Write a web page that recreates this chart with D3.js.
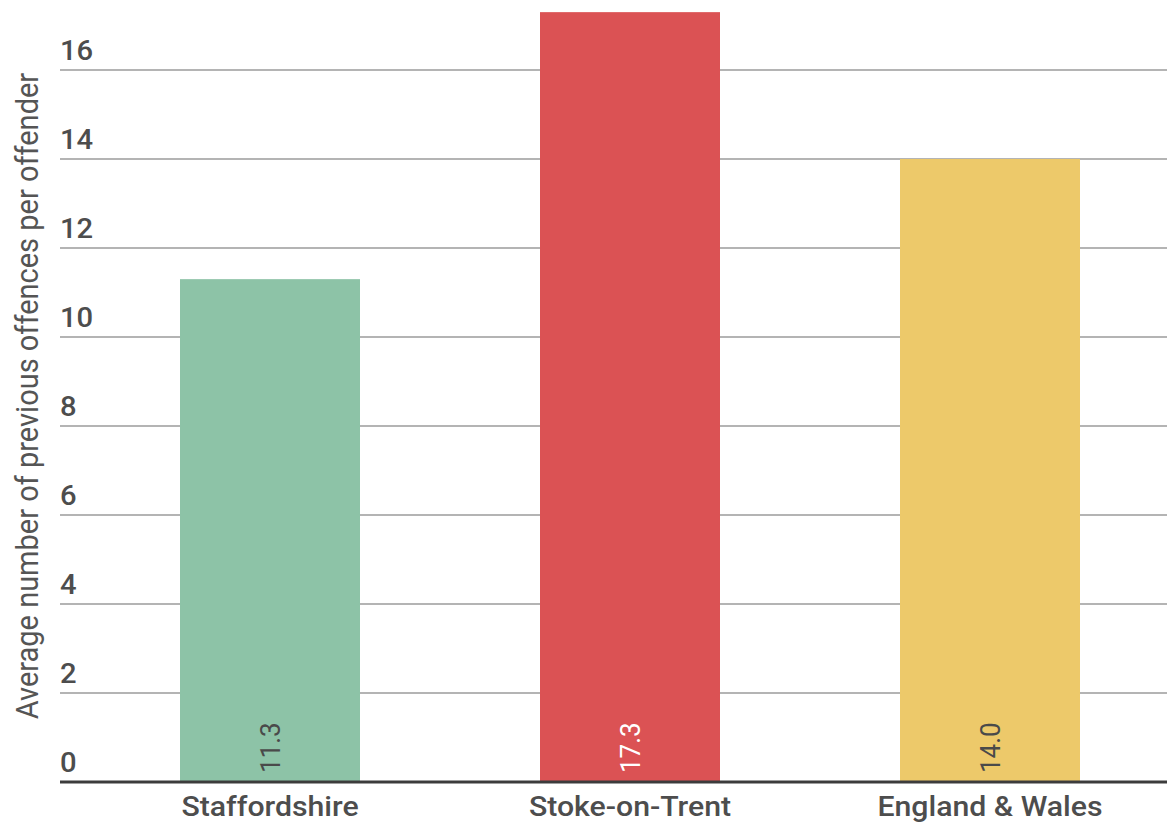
<!DOCTYPE html>
<html>
<head>
<meta charset="utf-8">
<script src="https://cdn.jsdelivr.net/npm/d3@7"></script>
<style>
  html, body { margin: 0; padding: 0; background: #fff; }
  svg { display: block; font-family: Roboto, "Noto Sans", sans-serif; }
</style>
</head>
<body>
<svg id="chart" width="1167" height="823"></svg>
<script>
// Average number of previous offences per offender, by area
const categories = ["Staffordshire", "Stoke-on-Trent", "England & Wales"];
const values = [11.3, 17.3, 14.0];
const barColors = ["#8dc3a7", "#db5254", "#edc96a"];
const labelColors = ["#4a4a4a", "#ffffff", "#4a4a4a"];
const yTicks = [0, 2, 4, 6, 8, 10, 12, 14, 16];
const yTitle = "Average number of previous offences per offender";

const svg = d3.select("#chart");
const width = 1167;
const stretch = 1.08; // slightly wide lettering

const x = d3.scaleBand()
  .domain(categories)
  .range([90, 1170])
  .paddingInner(0.5)
  .paddingOuter(0.25);

const y = d3.scaleLinear()
  .domain([0, 16])
  .range([782, 70]);

// Gridlines with tick labels sitting above them
const grid = svg.append("g");
grid.selectAll("line")
  .data(yTicks.filter(d => d !== 0))
  .join("line")
  .attr("x1", 60)
  .attr("x2", width)
  .attr("y1", d => y(d))
  .attr("y2", d => y(d))
  .attr("stroke", "#b4b4b4")
  .attr("stroke-width", 2);

grid.selectAll("text")
  .data(yTicks)
  .join("text")
  .attr("transform", d => `translate(60,${y(d) - 10}) scale(${stretch},1)`)
  .attr("fill", "#4d4d4d")
  .attr("font-size", 27)
  .attr("font-weight", 500)
  .text(d => d);

// Bars
svg.append("g")
  .selectAll("rect")
  .data(values)
  .join("rect")
  .attr("x", (d, i) => x(categories[i]))
  .attr("width", x.bandwidth())
  .attr("y", d => y(d))
  .attr("height", d => y(0) - y(d))
  .attr("fill", (d, i) => barColors[i]);

// Value labels, rotated inside the base of each bar
svg.append("g")
  .selectAll("text")
  .data(values)
  .join("text")
  .attr("transform", (d, i) => `translate(${x(categories[i]) + x.bandwidth() / 2},${y(0) - 9}) rotate(-90) scale(1,${stretch})`)
  .attr("dy", "0.35em")
  .attr("text-anchor", "start")
  .attr("fill", (d, i) => labelColors[i])
  .attr("font-size", 26)
  .text(d => d.toFixed(1));

// Baseline
svg.append("line")
  .attr("x1", 60)
  .attr("x2", width)
  .attr("y1", y(0))
  .attr("y2", y(0))
  .attr("stroke", "#3c3c3c")
  .attr("stroke-width", 3);

// Category labels
svg.append("g")
  .selectAll("text")
  .data(categories)
  .join("text")
  .attr("transform", d => `translate(${x(d) + x.bandwidth() / 2},816) scale(${stretch},1)`)
  .attr("text-anchor", "middle")
  .attr("fill", "#4d4d4d")
  .attr("font-size", 28)
  .attr("font-weight", 500)
  .text(d => d);

// Y axis title
svg.append("text")
  .attr("transform", `translate(38,396) rotate(-90) scale(1,${stretch})`)
  .attr("text-anchor", "middle")
  .attr("fill", "#555")
  .attr("font-size", 29)
  .text(yTitle);
</script>
</body>
</html>
